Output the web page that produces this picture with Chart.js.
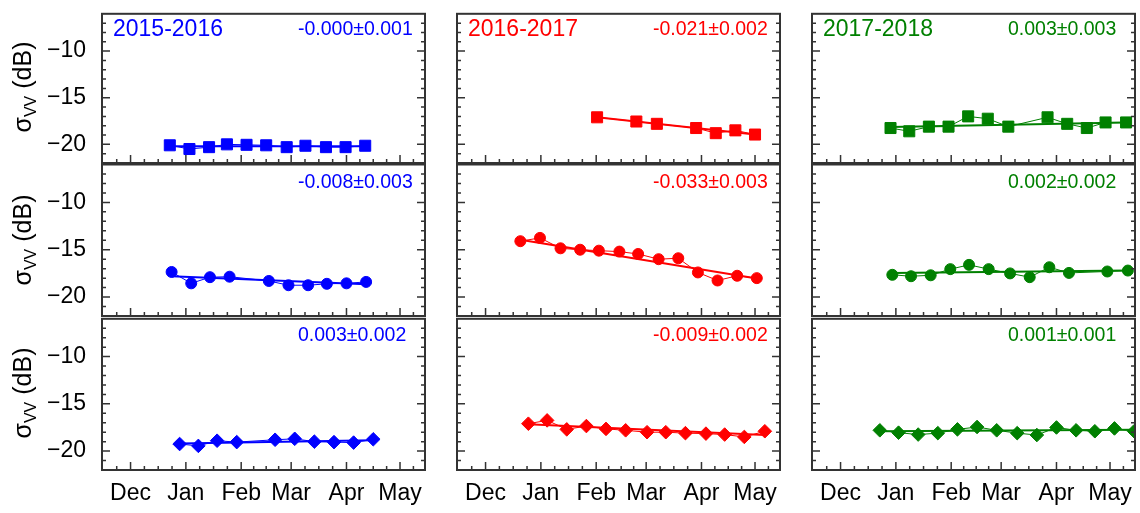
<!DOCTYPE html>
<html>
<head>
<meta charset="utf-8">
<script src="https://cdn.jsdelivr.net/npm/chart.js@4.4.1/dist/chart.umd.min.js"></script>
<style>
body { margin: 0; background: #fff; }
#page { position: relative; width: 1140px; height: 513px; overflow: hidden; font-family: "Liberation Sans", Arial, sans-serif; }
#page canvas { position: absolute; }
.season { position: absolute; font-size: 23px; line-height: 23px; white-space: nowrap; }
.slope { position: absolute; font-size: 19.5px; line-height: 19.5px; white-space: nowrap; }
.ytitle { position: absolute; font-size: 25px; line-height: 1; white-space: nowrap; color: #000;
  transform: translate(-50%, -50%) rotate(-90deg); }
.ytitle sub { font-size: 16px; vertical-align: -5px; }
</style>
</head>
<body>
<div id="page"></div>
<script>
// x values are days since 1 December, y values are sigma VV in dB
const monthTicks = [0, 31, 62, 90, 121, 151]
const monthLabels = ["Dec", "Jan", "Feb", "Mar", "Apr", "May"]
const yTickValues = [-20, -15, -10]

const seasons = ["2015-2016", "2016-2017", "2017-2018"]
const seasonColors = ["#0000ff", "#ff0000", "#008000"]

// 2015-2016
const days15Square = [22, 33, 44, 54, 65, 76, 87.5, 98, 109.5, 120.5, 131.5]
const vals15Square = [-20.1, -20.5, -20.3, -20.0, -20.05, -20.1, -20.3, -20.15, -20.3, -20.3, -20.15]
const fit15Square = [-20.2, -20.2]
const days15Circle = [23, 34, 44.5, 55.5, 77.5, 88.5, 99.5, 110, 121, 132]
const vals15Circle = [-17.35, -18.55, -17.9, -17.85, -18.3, -18.75, -18.75, -18.6, -18.55, -18.4]
const fit15Circle = [-17.8, -18.65]
const days15Diamond = [27.5, 38, 48.5, 59.5, 81, 92, 103, 114, 125, 136]
const vals15Diamond = [-19.25, -19.45, -18.9, -19.05, -18.8, -18.7, -19.0, -19.05, -19.1, -18.75]
const fit15Diamond = [-19.2, -18.85]
const slopes15 = ["-0.000±0.001", "-0.008±0.003", "0.003±0.002"]

// 2016-2017
const days16Square = [62.5, 84.5, 96, 118, 129, 140, 151]
const vals16Square = [-17.1, -17.55, -17.8, -18.25, -18.8, -18.5, -18.95]
const fit16Square = [-17.1, -18.95]
const days16Circle = [19.5, 30.5, 42, 53, 63.5, 75, 85.5, 97, 108, 119, 130, 141, 152]
const vals16Circle = [-14.1, -13.75, -14.85, -15.0, -15.1, -15.2, -15.45, -16.0, -15.9, -17.4, -18.25, -17.75, -18.0]
const fit16Circle = [-13.95, -18.05]
const days16Diamond = [24, 34.5, 45.5, 56.5, 67.5, 78.5, 90.5, 101, 112, 123.5, 134, 145, 156.5]
const vals16Diamond = [-17.1, -16.75, -17.7, -17.35, -17.65, -17.8, -18.0, -18.0, -18.1, -18.15, -18.25, -18.5, -17.9]
const fit16Diamond = [-17.15, -18.3]
const slopes16 = ["-0.021±0.002", "-0.033±0.003", "-0.009±0.002"]

// 2017-2018
const days17Square = [28, 38.5, 49.5, 60.5, 71.5, 82.5, 94, 116, 127, 138, 148.5, 160]
const vals17Square = [-18.25, -18.6, -18.1, -18.1, -17.0, -17.25, -18.1, -17.1, -17.8, -18.25, -17.65, -17.65]
const fit17Square = [-18.15, -17.65]
const days17Circle = [29, 39.5, 50.5, 61.5, 72, 83, 95, 106, 117, 128, 149.5, 161]
const vals17Circle = [-17.65, -17.8, -17.7, -17.05, -16.6, -17.05, -17.5, -17.9, -16.85, -17.45, -17.3, -17.2]
const fit17Circle = [-17.45, -17.2]
const days17Diamond = [22, 32.5, 43.5, 54.5, 65.5, 76.5, 87.5, 99, 110, 121, 132, 142.5, 153.5, 164.5]
const vals17Diamond = [-17.8, -18.05, -18.25, -18.1, -17.7, -17.45, -17.8, -18.1, -18.3, -17.5, -17.8, -17.9, -17.6, -17.9]
const fit17Diamond = [-17.9, -17.75]
const slopes17 = ["0.003±0.003", "0.002±0.002", "0.001±0.001"]

const panels = [
    [[days15Square, vals15Square, fit15Square], [days15Circle, vals15Circle, fit15Circle], [days15Diamond, vals15Diamond, fit15Diamond]],
    [[days16Square, vals16Square, fit16Square], [days16Circle, vals16Circle, fit16Circle], [days16Diamond, vals16Diamond, fit16Diamond]],
    [[days17Square, vals17Square, fit17Square], [days17Circle, vals17Circle, fit17Circle], [days17Diamond, vals17Diamond, fit17Diamond]]
]
const slopes = [slopes15, slopes16, slopes17]

const colLeft = [102, 457, 812]
const panelW = 323
const rowTop = [10, 163, 316]
const rowH = [153, 153, 154]
const padL = 100, padR = 10, padT = 5, padB = 45

const markers = [
    { pointStyle: "rect", pointRadius: 7.8 },
    { pointStyle: "circle", pointRadius: 5.5 },
    { pointStyle: "rectRot", pointRadius: 6.8 }
]

const tickFont = { family: "'Liberation Sans', Arial, sans-serif", size: 23 }

const framePlugin = {
    id: "frame",
    afterDatasetsDraw(chart) {
        const ctx = chart.ctx
        const a = chart.chartArea
        const xs = chart.scales.x
        const ys = chart.scales.y
        ctx.save()
        ctx.strokeStyle = "#333"
        ctx.lineWidth = 1.5
        ctx.beginPath()
        for (let v = -21; v <= -7; v++) {
            const py = ys.getPixelForValue(v)
            const len = v % 5 == 0 ? 8 : 4
            ctx.moveTo(a.left, py)
            ctx.lineTo(a.left + len, py)
            ctx.moveTo(a.right, py)
            ctx.lineTo(a.right - len, py)
        }
        const minor = []
        minor.push(monthTicks[0] - (monthTicks[1] - monthTicks[0]) / 4)
        for (let i = 0; i < monthTicks.length - 1; i++) {
            const step = (monthTicks[i + 1] - monthTicks[i]) / 4
            for (let k = 1; k < 4; k++) minor.push(monthTicks[i] + step * k)
        }
        const n = monthTicks.length
        minor.push(monthTicks[n - 1] + (monthTicks[n - 1] - monthTicks[n - 2]) / 4)
        minor.forEach((v) => {
            const px = xs.getPixelForValue(v)
            ctx.moveTo(px, a.bottom)
            ctx.lineTo(px, a.bottom - 4)
        })
        monthTicks.forEach((v) => {
            const px = xs.getPixelForValue(v)
            ctx.moveTo(px, a.bottom)
            ctx.lineTo(px, a.bottom - 8)
        })
        ctx.stroke()
        ctx.lineWidth = 2
        ctx.strokeRect(a.left, a.top, a.right - a.left, a.bottom - a.top)
        ctx.restore()
    }
}

const page = document.getElementById("page")

function makePanel(col, row) {
    const [days, vals, fit] = panels[col][row]
    const color = seasonColors[col]

    const canvas = document.createElement("canvas")
    canvas.width = padL + panelW + padR
    canvas.height = padT + rowH[row] + padB
    canvas.style.left = (colLeft[col] - padL) + "px"
    canvas.style.top = (rowTop[row] - padT) + "px"
    page.appendChild(canvas)

    const points = days.map((d, i) => ({ x: d, y: vals[i] }))
    const fitLine = [{ x: days[0], y: fit[0] }, { x: days[days.length - 1], y: fit[1] }]

    new Chart(canvas, {
        type: "line",
        data: {
            datasets: [{
                data: points,
                borderColor: color,
                backgroundColor: color,
                borderWidth: 1,
                pointBorderColor: color,
                pointBackgroundColor: color,
                pointBorderWidth: 1,
                pointStyle: markers[row].pointStyle,
                pointRadius: markers[row].pointRadius,
                tension: 0
            }, {
                data: fitLine,
                borderColor: color,
                borderWidth: 2,
                pointRadius: 0,
                tension: 0
            }]
        },
        options: {
            responsive: false,
            animation: false,
            devicePixelRatio: 1,
            events: [],
            layout: { padding: { top: padT, right: padR, left: 0, bottom: 0 } },
            plugins: { legend: { display: false }, tooltip: { enabled: false } },
            scales: {
                x: {
                    type: "linear",
                    min: -16,
                    max: 165,
                    afterFit: (s) => {
                        s.height = padB
                        s.paddingLeft = 0
                        s.paddingRight = 0
                    },
                    afterBuildTicks: (s) => { s.ticks = monthTicks.map((v) => ({ value: v })) },
                    grid: { display: false, drawTicks: false },
                    border: { display: false },
                    ticks: {
                        display: row == 2,
                        color: "#000",
                        font: tickFont,
                        padding: 10,
                        maxRotation: 0,
                        autoSkip: false,
                        callback: (v) => monthLabels[monthTicks.indexOf(v)]
                    }
                },
                y: {
                    type: "linear",
                    min: -22,
                    max: -6,
                    afterFit: (s) => {
                        s.width = padL
                        s.paddingTop = 0
                        s.paddingBottom = 0
                    },
                    afterBuildTicks: (s) => { s.ticks = yTickValues.map((v) => ({ value: v })) },
                    grid: { display: false, drawTicks: false },
                    border: { display: false },
                    ticks: {
                        display: col == 0,
                        color: "#000",
                        font: tickFont,
                        padding: 16,
                        callback: (v) => "\u2212" + Math.abs(v)
                    }
                }
            }
        },
        plugins: [framePlugin]
    })
}

for (let col = 0; col < 3; col++) {
    for (let row = 0; row < 3; row++) {
        makePanel(col, row)

        const s = document.createElement("div")
        s.className = "slope"
        s.style.color = seasonColors[col]
        s.style.left = (colLeft[col] + 196) + "px"
        s.style.top = (rowTop[row] + 9) + "px"
        s.textContent = slopes[col][row]
        page.appendChild(s)
    }
    const t = document.createElement("div")
    t.className = "season"
    t.style.color = seasonColors[col]
    t.style.left = (colLeft[col] + 11) + "px"
    t.style.top = (rowTop[0] + 7) + "px"
    t.textContent = seasons[col]
    page.appendChild(t)
}

for (let row = 0; row < 3; row++) {
    const y = document.createElement("div")
    y.className = "ytitle"
    y.style.left = "24px"
    y.style.top = (rowTop[row] + rowH[row] / 2) + "px"
    y.innerHTML = "\u03c3<sub>VV</sub> (dB)"
    page.appendChild(y)
}
</script>
</body>
</html>
